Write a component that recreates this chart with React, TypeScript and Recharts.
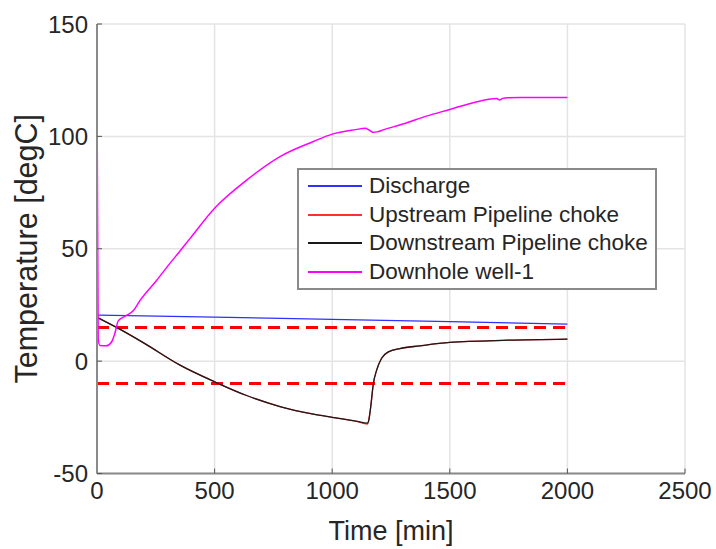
import { LineChart, Line, XAxis, YAxis, CartesianGrid, Legend } from 'recharts';

// time [min] and temperature [degC]
const dischargeTime = [0, 500, 1000, 1500, 2000];
const dischargeTemp = [20.5, 19.6, 18.6, 17.6, 16.5];

const chokeTime = [0, 83, 200, 353, 500, 636, 778, 920, 1000, 1100, 1150, 1156, 1163, 1175, 1189, 1210, 1239, 1288, 1373, 1500, 1750, 2000];
const upstreamTemp = [19.5, 15, 8, -1.8, -9.2, -15.3, -20.2, -23.6, -25, -26.7, -28, -26, -21, -10, -4, 1.3, 4.1, 5.6, 6.8, 8.3, 9.3, 9.8];
const downstreamTemp = [19.5, 15, 8, -1.8, -9.2, -15.3, -20.2, -23.6, -25, -26.7, -27.6, -26, -21, -10, -4, 1.3, 4.1, 5.6, 6.8, 8.3, 9.3, 9.8];

const downholeTime = [0, 5, 12, 40, 62, 75, 91, 120, 155, 183, 254, 310, 353, 395, 500, 636, 778, 920, 1000, 1100, 1140, 1160, 1175, 1190, 1220, 1300, 1400, 1500, 1600, 1700, 1712, 1725, 1745, 1800, 2000];
const downholeTemp = [120, 10, 7, 6.8, 8.5, 12, 18, 20, 22.5, 27, 36, 43.5, 49, 54.5, 68, 80.5, 91, 97.7, 101, 103, 103.6, 102.6, 101.8, 102, 103, 105.5, 109, 112, 115, 116.8, 116.2, 116.9, 117.2, 117.3, 117.3];

const limitTime = [0, 2000];
const upperLimit = [15, 15];
const lowerLimit = [-10, -10];

const legendOrder = ['Discharge', 'Upstream Pipeline choke', 'Downstream Pipeline choke', 'Downhole well-1'];

const xTicks = [0, 500, 1000, 1500, 2000, 2500];
const yTicks = [-50, 0, 50, 100, 150];

const toPoints = (ts: number[], vs: number[]) => ts.map((t, i) => ({ t, v: vs[i] }));

const tickStyle = { fill: '#262626', fontSize: 24, fontFamily: 'Liberation Sans, Arial, sans-serif' };
const axisColor = '#8a8a8a';

function LegendBox({ payload }: any) {
  const items = legendOrder
    .map((name) => (payload || []).find((p: any) => p.value === name))
    .filter(Boolean);
  return (
    <div
      style={{
        width: 356,
        height: 116,
        border: `2px solid ${axisColor}`,
        background: '#fff',
        fontFamily: 'Liberation Sans, Arial, sans-serif',
        fontSize: 22.5,
        color: '#262626',
        paddingTop: 2,
        boxSizing: 'content-box',
      }}
    >
      {items.map((p: any) => (
        <div key={p.value} style={{ display: 'flex', alignItems: 'center', height: 28.5 }}>
          <span style={{ display: 'inline-block', width: 54, height: 2, background: p.color, marginLeft: 9, marginRight: 7 }} />
          <span style={{ lineHeight: '28px', whiteSpace: 'nowrap' }}>{p.value}</span>
        </div>
      ))}
    </div>
  );
}

export default function App() {
  return (
    <div style={{ position: 'absolute', left: 0, top: 0, background: '#fff' }}>
      <LineChart width={716} height={549} margin={{ top: 24, right: 31, bottom: 0, left: 0 }}>
        <CartesianGrid stroke="#e4e4e4" strokeWidth={1.5} />
        <XAxis
          dataKey="t"
          type="number"
          domain={[0, 2500]}
          ticks={xTicks}
          height={75.5}
          axisLine={{ stroke: axisColor, strokeWidth: 2 }}
          tickLine={{ stroke: '#555' }}
          tickSize={-5}
          tickMargin={13}
          tick={tickStyle}
          label={{ value: 'Time [min]', position: 'insideBottom', offset: 9, style: { ...tickStyle, fontSize: 27 } }}
        />
        <XAxis
          xAxisId="top"
          orientation="top"
          type="number"
          domain={[0, 2500]}
          ticks={xTicks}
          height={0}
          axisLine={{ stroke: axisColor, strokeWidth: 2 }}
          tickLine={{ stroke: '#555' }}
          tickSize={5}
          tick={false}
        />
        <YAxis
          type="number"
          domain={[-50, 150]}
          ticks={yTicks}
          width={97}
          axisLine={{ stroke: axisColor, strokeWidth: 2 }}
          tickLine={{ stroke: '#555' }}
          tickSize={-5}
          tickMargin={14}
          tick={tickStyle}
          label={{
            value: 'Temperature [degC]',
            angle: -90,
            position: 'insideLeft',
            offset: 26,
            style: { ...tickStyle, fontSize: 30.5, textAnchor: 'middle' },
          }}
        />
        <YAxis
          yAxisId="right"
          orientation="right"
          type="number"
          domain={[-50, 150]}
          ticks={yTicks}
          width={0}
          axisLine={{ stroke: axisColor, strokeWidth: 2 }}
          tickLine={{ stroke: '#555' }}
          tickSize={5}
          tick={false}
        />
        <Legend
          layout="vertical"
          align="center"
          verticalAlign="middle"
          wrapperStyle={{ left: 297, top: 168, width: 360 }}
          content={<LegendBox />}
        />
        <Line data={toPoints(limitTime, upperLimit)} dataKey="v" name="upper limit" legendType="none" stroke="#ff0000" strokeWidth={3} strokeDasharray="12 7" dot={false} activeDot={false} isAnimationActive={false} />
        <Line data={toPoints(limitTime, lowerLimit)} dataKey="v" name="lower limit" legendType="none" stroke="#ff0000" strokeWidth={3} strokeDasharray="12 7" dot={false} activeDot={false} isAnimationActive={false} />
        <Line data={toPoints(dischargeTime, dischargeTemp)} dataKey="v" name="Discharge" type="monotone" stroke="#3030ff" strokeWidth={1.3} dot={false} activeDot={false} isAnimationActive={false} />
        <Line data={toPoints(chokeTime, upstreamTemp)} dataKey="v" name="Upstream Pipeline choke" type="monotone" stroke="#ff3030" strokeWidth={1.3} dot={false} activeDot={false} isAnimationActive={false} />
        <Line data={toPoints(chokeTime, downstreamTemp)} dataKey="v" name="Downstream Pipeline choke" type="monotone" stroke="#1a1a1a" strokeWidth={1.3} dot={false} activeDot={false} isAnimationActive={false} />
        <Line data={toPoints(downholeTime, downholeTemp)} dataKey="v" name="Downhole well-1" type="monotone" stroke="#ff00ff" strokeWidth={1.5} dot={false} activeDot={false} isAnimationActive={false} />
      </LineChart>
    </div>
  );
}
